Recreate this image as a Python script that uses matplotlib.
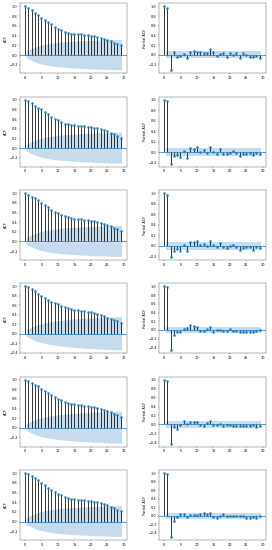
import numpy as np
import matplotlib
matplotlib.use("Agg")
import matplotlib.pyplot as plt

# lags 0..29
lags = np.arange(30)

# ACF values per row
acf_1 = [1.0, 0.97, 0.93, 0.87, 0.82, 0.77, 0.72, 0.68, 0.63, 0.58, 0.54, 0.51, 0.48, 0.46, 0.44,
         0.44, 0.44, 0.43, 0.42, 0.41, 0.40, 0.39, 0.37, 0.35, 0.33, 0.31, 0.28, 0.25, 0.23, 0.20]
acf_2 = [1.0, 0.97, 0.93, 0.88, 0.84, 0.80, 0.75, 0.70, 0.65, 0.61, 0.58, 0.54, 0.51, 0.50, 0.48,
         0.47, 0.46, 0.46, 0.45, 0.44, 0.44, 0.42, 0.41, 0.39, 0.37, 0.35, 0.32, 0.29, 0.26, 0.22]
acf_3 = [1.0, 0.97, 0.93, 0.89, 0.85, 0.80, 0.76, 0.71, 0.66, 0.62, 0.58, 0.55, 0.52, 0.50, 0.48,
         0.47, 0.46, 0.46, 0.45, 0.44, 0.43, 0.42, 0.40, 0.38, 0.36, 0.34, 0.31, 0.28, 0.25, 0.21]
acf_4 = [1.0, 0.98, 0.94, 0.90, 0.84, 0.80, 0.76, 0.71, 0.68, 0.64, 0.62, 0.59, 0.56, 0.54, 0.52,
         0.51, 0.50, 0.49, 0.48, 0.46, 0.45, 0.43, 0.41, 0.39, 0.37, 0.34, 0.31, 0.29, 0.26, 0.22]
acf_5 = [1.0, 0.97, 0.94, 0.90, 0.86, 0.81, 0.77, 0.72, 0.68, 0.64, 0.60, 0.57, 0.54, 0.52, 0.50,
         0.49, 0.48, 0.47, 0.46, 0.45, 0.44, 0.43, 0.41, 0.39, 0.37, 0.35, 0.32, 0.29, 0.26, 0.22]
acf_6 = [1.0, 0.98, 0.94, 0.90, 0.85, 0.80, 0.75, 0.70, 0.66, 0.61, 0.57, 0.54, 0.50, 0.48, 0.47,
         0.46, 0.455, 0.45, 0.44, 0.43, 0.43, 0.41, 0.40, 0.39, 0.37, 0.34, 0.31, 0.28, 0.24, 0.21]

# half-width of the ACF confidence band, lags 1..29
band_1 = [0.070, 0.119, 0.150, 0.174, 0.193, 0.208, 0.221, 0.233, 0.242, 0.250, 0.257, 0.262, 0.268, 0.272, 0.276,
          0.280, 0.284, 0.287, 0.291, 0.294, 0.297, 0.300, 0.303, 0.305, 0.307, 0.309, 0.311, 0.312, 0.314]
band_2 = [0.070, 0.119, 0.150, 0.175, 0.194, 0.210, 0.223, 0.235, 0.245, 0.253, 0.260, 0.266, 0.272, 0.277, 0.281,
          0.285, 0.289, 0.293, 0.297, 0.300, 0.303, 0.306, 0.309, 0.311, 0.313, 0.315, 0.317, 0.318, 0.319]
band_3 = [0.070, 0.119, 0.150, 0.175, 0.194, 0.210, 0.223, 0.235, 0.245, 0.253, 0.260, 0.267, 0.273, 0.278, 0.282,
          0.286, 0.290, 0.294, 0.298, 0.301, 0.304, 0.307, 0.310, 0.312, 0.314, 0.316, 0.318, 0.319, 0.320]
band_4 = [0.070, 0.120, 0.152, 0.177, 0.197, 0.214, 0.228, 0.241, 0.252, 0.262, 0.271, 0.279, 0.286, 0.293, 0.299,
          0.305, 0.310, 0.315, 0.320, 0.324, 0.328, 0.332, 0.336, 0.339, 0.342, 0.345, 0.347, 0.349, 0.351]
band_5 = [0.070, 0.119, 0.151, 0.176, 0.195, 0.211, 0.225, 0.237, 0.247, 0.256, 0.264, 0.271, 0.277, 0.283, 0.288,
          0.293, 0.298, 0.302, 0.306, 0.310, 0.314, 0.317, 0.320, 0.323, 0.326, 0.328, 0.330, 0.332, 0.333]
band_6 = [0.070, 0.119, 0.150, 0.175, 0.194, 0.210, 0.223, 0.235, 0.245, 0.253, 0.260, 0.266, 0.271, 0.276, 0.280,
          0.284, 0.288, 0.292, 0.295, 0.298, 0.301, 0.304, 0.307, 0.309, 0.311, 0.313, 0.315, 0.316, 0.317]

# PACF values per row
pacf_1 = [1.0, 0.97, -0.32, 0.05, -0.05, -0.03, 0.02, -0.07, 0.05, 0.07, 0.05, 0.05, 0.03, 0.03, 0.13,
          0.05, -0.02, 0.02, 0.03, -0.05, 0.03, -0.01, 0.03, -0.06, 0.03, -0.01, -0.04, -0.05, -0.03, -0.07]
pacf_2 = [1.0, 0.97, -0.22, -0.08, -0.06, -0.10, 0.02, -0.11, 0.08, 0.06, 0.09, 0.01, 0.04, -0.01, 0.09,
          0.01, -0.03, 0.05, -0.03, -0.04, -0.02, 0.03, -0.02, -0.07, -0.03, -0.03, -0.02, -0.06, -0.02, -0.04]
pacf_3 = [1.0, 0.97, -0.21, -0.09, -0.06, -0.09, 0.02, -0.10, 0.08, 0.07, 0.09, 0.01, 0.04, -0.01, 0.10,
          0.01, -0.03, 0.06, -0.03, -0.04, -0.01, 0.02, -0.02, -0.07, -0.04, -0.03, -0.02, -0.07, -0.03, -0.05]
pacf_4 = [1.0, 0.98, -0.47, -0.11, -0.06, -0.05, 0.02, 0.05, 0.11, 0.08, 0.06, -0.02, -0.02, 0.02, 0.06,
          -0.05, 0.00, -0.01, -0.03, -0.02, 0.02, -0.02, -0.03, -0.05, -0.04, -0.06, -0.06, -0.04, -0.03, -0.01]
pacf_5 = [1.0, 0.98, -0.43, -0.06, -0.10, -0.01, 0.07, 0.00, 0.06, 0.06, 0.05, -0.02, -0.03, 0.04, 0.08,
          -0.02, -0.01, 0.01, -0.03, -0.01, -0.01, -0.03, -0.04, -0.03, -0.03, -0.03, -0.04, -0.02, -0.05, -0.03]
pacf_6 = [1.0, 0.98, -0.50, -0.12, -0.04, 0.04, 0.05, -0.03, 0.02, 0.01, 0.02, 0.04, 0.06, 0.04, 0.07,
          -0.03, -0.06, -0.02, 0.05, -0.02, -0.02, -0.02, -0.02, -0.02, -0.02, -0.05, -0.05, -0.03, -0.05, -0.02]

# PACF band half-width (1.96 / sqrt(n))
pacf_band = 0.07

acfs = [acf_1, acf_2, acf_3, acf_4, acf_5, acf_6]
bands = [band_1, band_2, band_3, band_4, band_5, band_6]
pacfs = [pacf_1, pacf_2, pacf_3, pacf_4, pacf_5, pacf_6]


def corr_plot(ax, vals, half, ylabel):
    vals = np.asarray(vals)
    ax.vlines(lags, 0, vals, colors="k", linewidth=2.2)
    ax.plot(lags, vals, marker="o", markersize=6, linestyle="None")
    ax.axhline(0, linewidth=2)
    # band from lag 0.5 to 29.5, like statsmodels
    bx = lags[1:].astype(float)
    bx[0] -= 0.5
    bx[-1] += 0.5
    ax.fill_between(bx, -np.asarray(half), np.asarray(half), alpha=0.25, linewidth=0)
    ax.margins(0.05)
    ax.set_xticks([0, 5, 10, 15, 20, 25, 30])
    ax.set_ylabel(ylabel)


# big canvas drawn at low dpi, like a downscaled screenshot
fig, axes = plt.subplots(6, 2, figsize=(10.88, 22), dpi=25)
plt.subplots_adjust(left=0.074, right=0.978, top=0.994, bottom=0.018, wspace=0.30, hspace=0.33)

for i in range(6):
    corr_plot(axes[i, 0], acfs[i], bands[i], "ACF")
    corr_plot(axes[i, 1], pacfs[i], [pacf_band] * 29, "Partial ACF")

plt.savefig("out.png", dpi=25)
